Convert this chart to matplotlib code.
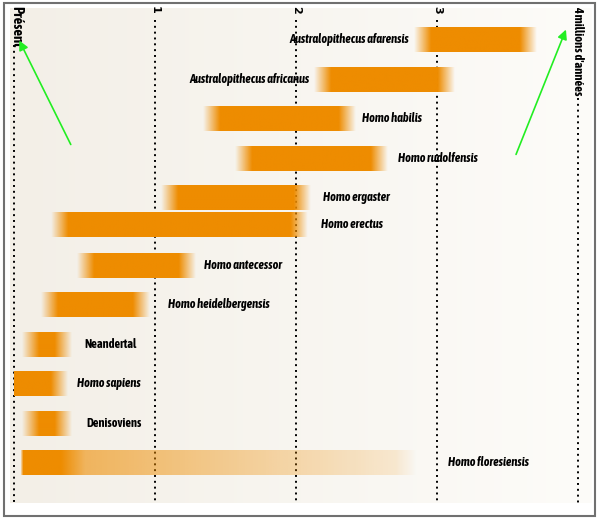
import numpy as np
import matplotlib
matplotlib.use("Agg")
import matplotlib.pyplot as plt
from matplotlib.patches import Rectangle

# species, start / end of the range in millions of years
species = ["Australopithecus afarensis", "Australopithecus africanus", "Homo habilis",
           "Homo rudolfensis", "Homo ergaster", "Homo erectus", "Homo antecessor",
           "Homo heidelbergensis", "Neandertal", "Homo sapiens", "Denisoviens",
           "Homo floresiensis"]
start = [2.84, 2.13, 1.34, 1.57, 1.04, 0.26, 0.45, 0.19, 0.06, 0.0, 0.06, 0.04]
end = [3.71, 3.13, 2.42, 2.65, 2.10, 2.08, 1.29, 0.96, 0.41, 0.38, 0.41, 2.85]
italic = [True, True, True, True, True, True, True, True, False, True, False, True]
ticks = [1, 2, 3]

# layout
rows = [0, 1, 2, 3, 4, 4.66, 5.7, 6.7, 7.7, 8.7, 9.7, 10.7]
label_side = ["left", "left", "right", "right", "right", "right", "right", "right",
              "right", "right", "right", "right"]
label_gap = [0.04, 0.035, 0.05, 0.07, 0.09, 0.1, 0.06, 0.13, 0.09, 0.07, 0.1, 0.23]
orange = np.array([238, 140, 0]) / 255
fade = 0.12
bar_h = 0.63

W, H = 600, 528
PX_PER_MA = 141.0
X0 = 14.0
ROW0, ROW_STEP = 40.0, 39.5


def px2x(p):
    return (p - X0) / PX_PER_MA


def px2y(p):
    return (p - ROW0) / ROW_STEP


fig = plt.figure(figsize=(W / 100, H / 100), dpi=100)
ax = fig.add_axes([0, 0, 1, 1])
ax.set_xlim(px2x(0), px2x(W))
ax.set_ylim(px2y(H), px2y(0))
ax.axis("off")

# beige background fading to white on the right
n = 300
bg = np.zeros((1, n, 3))
left_c = np.array([243, 239, 231]) / 255
right_c = np.array([253, 252, 249]) / 255
t = np.linspace(0, 1, n)[:, None]
bg[0] = left_c * (1 - t) + right_c * t
ax.imshow(bg, extent=(px2x(10), px2x(592), px2y(503), px2y(8)),
          aspect="auto", interpolation="bilinear", zorder=0)

# outer frame
fig.patches.append(Rectangle((4 / W, 1 - 516 / H), 591 / W, 513 / H,
                             transform=fig.transFigure, fill=False,
                             edgecolor="#707070", lw=1.5))

# dotted guides
ax.vlines(0, px2y(45), px2y(503), colors="black", linestyles=(0, (1, 2)), lw=1.4, zorder=1)
for tk in ticks:
    ax.vlines(tk, px2y(20), px2y(503), colors="black", linestyles=(0, (1, 2)), lw=1.4, zorder=1)
    ax.text(tk, px2y(6), str(tk), rotation=-90, ha="center", va="top",
            fontsize=8, fontweight="bold")
ax.vlines(4, px2y(98), px2y(503), colors="black", linestyles=(0, (1, 2)), lw=1.4, zorder=1)

fam = ["Asap Condensed", "Roboto", "DejaVu Sans"]
ax.text(px2x(16), px2y(6), "Présent", rotation=-90, ha="center", va="top",
        fontsize=10.5, fontweight="bold", family=fam)
ax.text(4, px2y(6), "4 millions d'années", rotation=-90, ha="center", va="top",
        fontsize=9, fontweight="bold", family=fam)

# bars with soft ends
for i, name in enumerate(species):
    s, e, y = start[i], end[i], rows[i]
    xs = np.linspace(s, e, 400)
    if name == "Homo floresiensis":
        a = np.interp(xs, [s, s + 0.02, 0.33, 0.5, 2.7, e], [0, 1, 1, 0.6, 0.15, 0])
    else:
        lf = 0 if s == 0 else fade
        a = np.ones_like(xs)
        if lf > 0:
            a = np.minimum(a, (xs - s) / lf)
        a = np.minimum(a, (e - xs) / fade)
        a = np.clip(a, 0, 1)
    img = np.zeros((1, len(xs), 4))
    img[0, :, :3] = orange
    img[0, :, 3] = a
    ax.imshow(img, extent=(s, e, y + bar_h / 2, y - bar_h / 2),
              aspect="auto", interpolation="bilinear", zorder=2)

    style = "italic" if italic[i] else "normal"
    if label_side[i] == "left":
        ax.text(s - label_gap[i], y, name, ha="right", va="center", fontsize=8.8,
                fontweight="bold", style=style, family=fam, zorder=3)
    else:
        ax.text(e + label_gap[i], y, name, ha="left", va="center", fontsize=8.8,
                fontweight="bold", style=style, family=fam, zorder=3)

# green arrows
arrow = dict(arrowstyle="-|>", color="#22ee22", lw=1.2, mutation_scale=14)
ax.annotate("", xy=(px2x(18), px2y(38)), xytext=(px2x(72), px2y(147)), arrowprops=arrow)
ax.annotate("", xy=(px2x(567), px2y(27)), xytext=(px2x(515), px2y(157)), arrowprops=arrow)

fig.savefig("out.png", dpi=100)
